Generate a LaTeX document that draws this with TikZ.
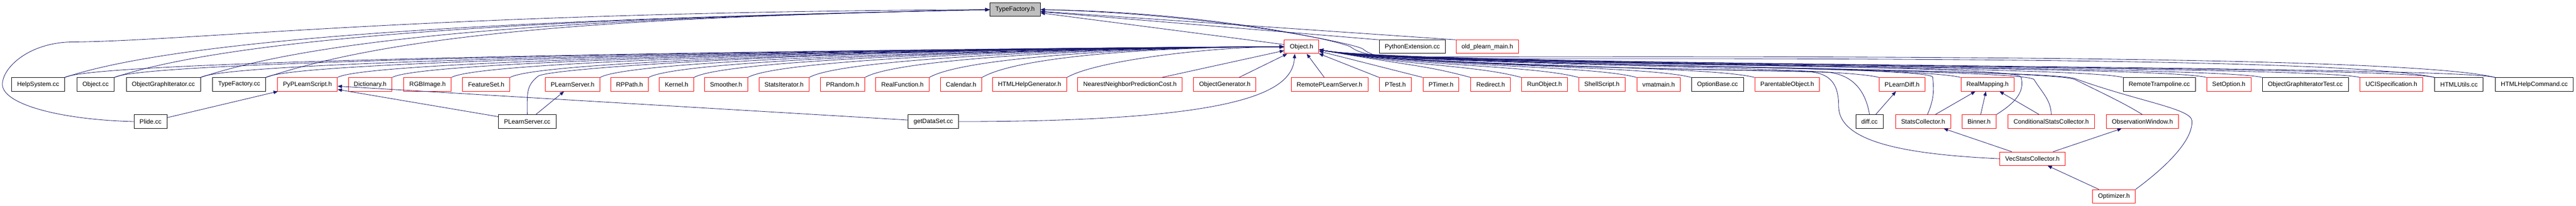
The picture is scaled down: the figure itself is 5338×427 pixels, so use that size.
\documentclass[tikz,border=0pt]{standalone}
\usepackage{fontspec}
\setmainfont{Liberation Sans}
\usepackage{tikz}
\usetikzlibrary{arrows.meta}
\definecolor{edgeblue}{rgb}{0.1,0.1,0.44}
\definecolor{boxred}{rgb}{1.0,0.0,0.0}
\definecolor{boxgray}{rgb}{0.75,0.75,0.75}
\tikzset{
  file/.style={draw, fill=white, line width=1pt, minimum height=28pt, inner xsep=11.5pt, inner ysep=0pt, font=\fontsize{13}{15}\selectfont},
  hfile/.style={file, draw=boxred},
  ccfile/.style={file, draw=black},
  edge/.style={->, >={Stealth[length=9pt,width=7pt,inset=0pt]}, draw=edgeblue, line width=0.9pt}
}

\begin{document}
\begin{tikzpicture}[x=1pt,y=-1pt]
\useasboundingbox (0,0) rectangle (5338,427);
\node [file, fill=boxgray] (tf) at (2103.5,20) {TypeFactory.h};
\node [hfile] (obj) at (2697,97) {Object.h};
\node [ccfile] (pyext) at (2926.5,97) {PythonExtension.cc};
\node [hfile] (oldmain) at (3082,97) {old\_plearn\_main.h};
\node [ccfile] (helpsys) at (79,175) {HelpSystem.cc};
\node [ccfile] (objcc) at (198,175) {Object.cc};
\node [ccfile] (ogicc) at (338.5,175) {ObjectGraphIterator.cc};
\node [ccfile] (tfcc) at (495.5,175) {TypeFactory.cc};
\node [hfile] (pyscript) at (637,175) {PyPLearnScript.h};
\node [hfile] (dict) at (767,175) {Dictionary.h};
\node [hfile] (rgbimg) at (886,175) {RGBImage.h};
\node [hfile] (featset) at (1007.5,175) {FeatureSet.h};
\node [hfile] (plsh) at (1186.5,175) {PLearnServer.h};
\node [hfile] (rppath) at (1304.5,175) {RPPath.h};
\node [hfile] (kernel) at (1402,175) {Kernel.h};
\node [hfile] (smoother) at (1504.5,175) {Smoother.h};
\node [hfile] (statsit) at (1624.5,175) {StatsIterator.h};
\node [hfile] (prandom) at (1746,175) {PRandom.h};
\node [hfile] (realfn) at (1870,175) {RealFunction.h};
\node [hfile] (calendar) at (1991.5,175) {Calendar.h};
\node [hfile] (htmlgen) at (2133.5,175) {HTMLHelpGenerator.h};
\node [hfile] (nnpc) at (2341.5,175) {NearestNeighborPredictionCost.h};
\node [hfile] (objgen) at (2538,175) {ObjectGenerator.h};
\node [hfile] (rplsh) at (2755,175) {RemotePLearnServer.h};
\node [hfile] (ptest) at (2891.5,175) {PTest.h};
\node [hfile] (ptimer) at (2986,175) {PTimer.h};
\node [hfile] (redirect) at (3089,175) {Redirect.h};
\node [hfile] (runobj) at (3200.5,175) {RunObject.h};
\node [hfile] (shellscr) at (3319.5,175) {ShellScript.h};
\node [hfile] (vmatmain) at (3437,175) {vmatmain.h};
\node [ccfile] (optbase) at (3559,175) {OptionBase.cc};
\node [hfile] (parobj) at (3703.5,175) {ParentableObject.h};
\node [hfile] (pldiff) at (3941.5,175) {PLearnDiff.h};
\node [hfile] (realmap) at (4118.5,175) {RealMapping.h};
\node [ccfile] (rtramp) at (4474.5,175) {RemoteTrampoline.cc};
\node [hfile] (setopt) at (4618.5,175) {SetOption.h};
\node [ccfile] (ogitest) at (4777,175) {ObjectGraphIteratorTest.cc};
\node [hfile] (ucispec) at (4955.5,175) {UCISpecification.h};
\node [ccfile] (htmlutils) at (5095.5,175) {HTMLUtils.cc};
\node [ccfile] (htmlhelp) at (5251.5,175) {HTMLHelpCommand.cc};
\node [ccfile] (plide) at (312,252) {Plide.cc};
\node [ccfile] (plscc) at (1092.5,252) {PLearnServer.cc};
\node [ccfile] (getds) at (1934,252) {getDataSet.cc};
\node [ccfile] (diffcc) at (3874,252) {diff.cc};
\node [hfile] (statscol) at (3985,252) {StatsCollector.h};
\node [hfile] (binner) at (4101,252) {Binner.h};
\node [hfile] (condstats) at (4250.5,252) {ConditionalStatsCollector.h};
\node [hfile] (obswin) at (4439.5,252) {ObservationWindow.h};
\node [hfile] (vecstats) at (4211.5,329) {VecStatsCollector.h};
\node [hfile] (optim) at (4380.5,407) {Optimizer.h};
\draw [edge] (helpsys.north east) .. controls +(300,-100) and +(-700,15) .. (tf.west);
\draw [edge] (objcc.north east) .. controls +(300,-100) and +(-700,15) .. (tf.west);
\draw [edge] (ogicc.north east) .. controls +(300,-100) and +(-700,15) .. (tf.west);
\draw [edge] (tfcc.north east) .. controls +(300,-100) and +(-700,15) .. (tf.west);
\draw [edge] (plide.west) .. controls (120,248) and (5,215) .. (5,175) .. controls (5,140) and (60,88) .. (150,87) .. controls (400,85) and (900,25) .. (tf.west);
\draw [edge] (obj) -- (tf);
\draw [edge] (pyext.north west) -- (tf);
\draw [edge] (oldmain.north west) -- (tf);
\draw [edge] (htmlutils.north west) .. controls +(-200,-45) and +(600,0) .. (2920,122) .. controls (2870,122) and (2840,115) .. (2825,102) .. controls (2810,90) and +(350,8) .. (tf.east);
\draw [edge] (htmlhelp.north west) .. controls +(-200,-50) and +(600,0) .. (2900,118) .. controls (2850,118) and (2815,110) .. (2800,98) .. controls (2785,86) and +(350,5) .. (tf.east);
\draw [edge] (helpsys.north east) .. controls +(78,-45) and +(-250,0) .. (obj.west);
\draw [edge] (objcc.north east) .. controls +(78,-45) and +(-250,0) .. (obj.west);
\draw [edge] (ogicc.north east) .. controls +(78,-45) and +(-250,0) .. (obj.west);
\draw [edge] (tfcc.north east) .. controls +(78,-45) and +(-250,0) .. (obj.west);
\draw [edge] (pyscript.north east) .. controls +(78,-45) and +(-250,0) .. (obj.west);
\draw [edge] (dict.north east) .. controls +(78,-45) and +(-250,0) .. (obj.west);
\draw [edge] (rgbimg.north east) .. controls +(78,-45) and +(-250,0) .. (obj.west);
\draw [edge] (featset.north east) .. controls +(78,-45) and +(-250,0) .. (obj.west);
\draw [edge] (plsh.north east) .. controls +(78,-45) and +(-250,0) .. (obj.west);
\draw [edge] (rppath.north east) .. controls +(78,-45) and +(-250,0) .. (obj.west);
\draw [edge] (kernel.north east) .. controls +(78,-45) and +(-250,0) .. (obj.west);
\draw [edge] (smoother.north east) .. controls +(78,-45) and +(-250,0) .. (obj.west);
\draw [edge] (statsit.north east) .. controls +(78,-45) and +(-250,0) .. (obj.west);
\draw [edge] (prandom.north east) .. controls +(78,-45) and +(-250,0) .. (obj.west);
\draw [edge] (realfn.north east) .. controls +(78,-45) and +(-250,0) .. (obj.west);
\draw [edge] (calendar.north east) .. controls +(78,-45) and +(-250,0) .. (obj.west);
\draw [edge] (htmlgen.north east) .. controls +(60,-35) and +(-150,0) .. (obj.west);
\draw [edge] (nnpc) -- (obj);
\draw [edge] (objgen) -- (obj);
\draw [edge] (rplsh) -- (obj);
\draw [edge] (ptest.north west) -- (obj);
\draw [edge] (ptimer.north west) -- (obj);
\draw [edge] (redirect.north west) .. controls +(-97,-26) and +(197,35) .. ([yshift=-6pt]obj.east);
\draw [edge] (runobj.north west) .. controls +(-97,-26) and +(197,35) .. ([yshift=-6pt]obj.east);
\draw [edge] (shellscr.north west) .. controls +(-97,-26) and +(197,35) .. ([yshift=-6pt]obj.east);
\draw [edge] (vmatmain.north west) .. controls +(-97,-26) and +(197,35) .. ([yshift=-6pt]obj.east);
\draw [edge] (optbase.north west) .. controls +(-97,-26) and +(197,35) .. ([yshift=-6pt]obj.east);
\draw [edge] (parobj.north west) .. controls +(-97,-26) and +(197,35) .. ([yshift=-6pt]obj.east);
\draw [edge] (pldiff.north west) .. controls +(-97,-26) and +(197,35) .. ([yshift=-6pt]obj.east);
\draw [edge] (realmap.north west) .. controls +(-97,-26) and +(197,35) .. ([yshift=-6pt]obj.east);
\draw [edge] (rtramp.north west) .. controls +(-97,-26) and +(197,35) .. ([yshift=-6pt]obj.east);
\draw [edge] (setopt.north west) .. controls +(-97,-26) and +(197,35) .. ([yshift=-6pt]obj.east);
\draw [edge] (ogitest.north west) .. controls +(-97,-26) and +(197,35) .. ([yshift=-6pt]obj.east);
\draw [edge] (ucispec.north west) .. controls +(-97,-26) and +(197,35) .. ([yshift=-6pt]obj.east);
\draw [edge] (htmlutils.north west) .. controls +(-97,-26) and +(197,35) .. ([yshift=-6pt]obj.east);
\draw [edge] (htmlhelp.north west) .. controls +(-97,-26) and +(197,35) .. ([yshift=-6pt]obj.east);
\draw [edge] (plide) -- (pyscript);
\draw [edge] (plscc) -- (pyscript);
\draw [edge] (getds) -- (pyscript);
\draw [edge] (plscc) -- (plsh);
\draw [edge] (plscc.north) .. controls +(0,-45) and +(-25,20) .. (1115,158) .. controls +(25,-20) and +(-800,0) .. (obj.west);
\draw [edge] (getds.east) .. controls +(600,0) and +(-5,75) .. ([xshift=-14pt]obj.south);
\draw [edge] (diffcc) -- (pldiff);
\draw [edge] (diffcc.north) .. controls +(-10,-60) and (3830,155) .. (3790,150) .. controls +(-150,-5) and +(200,35) .. ([yshift=-6pt]obj.east);
\draw [edge] (statscol) -- (realmap);
\draw [edge] (binner) -- (realmap);
\draw [edge] (condstats) -- (realmap);
\draw [edge] ([xshift=9pt]statscol.north) .. controls +(15,-35) and +(2,25) .. (4005,160) .. controls +(-3,-25) and +(200,35) .. ([yshift=-6pt]obj.east);
\draw [edge] (binner.north east) .. controls +(40,-25) and +(8,30) .. (4188,160) .. controls +(-8,-30) and +(200,35) .. ([yshift=-6pt]obj.east);
\draw [edge] (condstats.north) .. controls +(0,-30) and +(15,25) .. (4215,165) .. controls +(-15,-25) and +(200,35) .. ([yshift=-6pt]obj.east);
\draw [edge] (obswin.north) .. controls +(-40,-25) and +(50,25) .. (4300,165) .. controls +(-50,-25) and +(200,35) .. ([yshift=-6pt]obj.east);
\draw [edge] (vecstats) -- (statscol);
\draw [edge] (vecstats) -- (obswin);
\draw [edge] (vecstats.west) .. controls (3950,320) and (3810,295) .. (3810,220) .. controls (3810,170) and (3790,150) .. (3740,148) .. controls +(-200,-5) and +(200,35) .. ([yshift=-6pt]obj.east);
\draw [edge] (optim) -- (vecstats);
\draw [edge] (optim.north east) .. controls (4490,345) and (4545,290) .. (4542,250) .. controls (4540,225) and (4430,210) .. (4300,163) .. controls +(-60,-22) and +(200,35) .. ([yshift=-6pt]obj.east);
\end{tikzpicture}
\end{document}
